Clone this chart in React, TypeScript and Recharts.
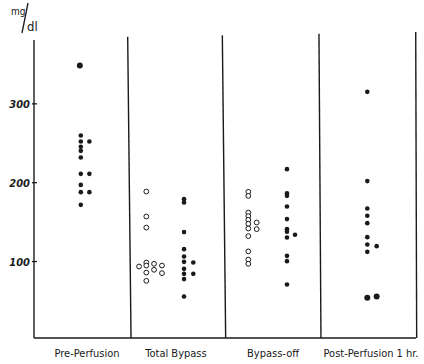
import { ScatterChart, Scatter, XAxis, YAxis, ReferenceLine, Customized } from "recharts";

const categories = ["Pre-Perfusion", "Total Bypass", "Bypass-off", "Post-Perfusion 1 hr."];
const categoryTicks = [0.555, 1.487, 2.503, 3.529];
const yTicks = [100, 200, 300];
// hand-drawn panel dividers lean a little: x at the top and at the bottom
const dividerTop = [0.981, 1.972, 2.984, 3.997];
const dividerBottom = [1.016, 2.007, 3.005, 4.007];

// values in mg/dl, one list per column of dots
const preMain = [259.8, 252.2, 245.5, 240.4, 231.9, 211.2, 197.2, 188, 171.9];
const preSide = [252.2, 211.2, 188];
const preHigh = [348.6];

const totalOpenA = [93.7];
const totalOpenB = [188.8, 157.1, 143.1, 98.7, 94.9, 86, 75.5];
const totalOpenC = [97.1, 89.5];
const totalOpenD = [94.9, 85.3];
const totalFilled = [179.1, 174.8, 137.3, 115.7, 106.3, 99.6, 90.7, 84.4, 77.7, 55.6];
const totalFilledSide = [98.7, 84.4];

const offOpen = [188.4, 183.3, 162.1, 157.6, 152.9, 147.8, 141.9, 132.2, 112.9, 102.5, 97.1];
const offOpenSide = [149.5, 141.1];
const offFilled = [217.2, 186.7, 183.3, 169.8, 153.8, 141.1, 137.7, 130.4, 107.2, 100.5, 70.8];
const offFilledSide = [133.9];

const postFilled = [315.2, 202, 167.2, 158, 148.7, 130.9, 121.6, 112.3];
const postFilledSide = [119.5];
const postLowA = [53.9];
const postLowB = [55.6];

const col = (x: number, values: number[]) => values.map((y) => ({ x, y }));

const filled = [
  ...col(0.49, preMain),
  ...col(0.58, preSide),
  ...col(1.571, totalFilled),
  ...col(1.668, totalFilledSide),
  ...col(2.649, offFilled),
  ...col(2.733, offFilledSide),
  ...col(3.49, postFilled),
  ...col(3.588, postFilledSide),
];
const big = [...col(0.48, preHigh), ...col(3.49, postLowA), ...col(3.588, postLowB)];
const open = [
  ...col(1.1, totalOpenA),
  ...col(1.176, totalOpenB),
  ...col(1.257, totalOpenC),
  ...col(1.34, totalOpenD),
  ...col(2.244, offOpen),
  ...col(2.332, offOpenSide),
];

const ink = "#1a1a1a";
const hand = "'DejaVu Sans Condensed', 'Liberation Sans', sans-serif";

const YTick = ({ x, y, payload }: any) => (
  <g>
    <line x1={x} x2={x + 5} y1={y} y2={y} stroke={ink} strokeWidth={1.3} />
    <text x={x - 2} y={y} dy={4} textAnchor="end" fontFamily={hand} fontSize={11} fontWeight="bold" fontStyle="italic" fill={ink}>
      {payload.value}
    </text>
  </g>
);

const XTick = ({ x, y, payload }: any) => (
  <text x={x} y={y + 17} textAnchor="middle" fontFamily={hand} fontSize={11} fill={ink}>
    {categories[categoryTicks.indexOf(payload.value)]}
  </text>
);

const UnitLabel = () => (
  <g fontFamily={hand} fill={ink}>
    <text x={11} y={15} fontSize={10}>mg</text>
    <line x1={22} y1={33} x2={28} y2={3} stroke={ink} strokeWidth={1.3} />
    <text x={27} y={31} fontSize={13}>dl</text>
  </g>
);

const dot = (r: number) => (props: any) => <circle cx={props.cx} cy={props.cy} r={r} fill={ink} />;
const ring = (props: any) => <circle cx={props.cx} cy={props.cy} r={2.4} fill="#fff" stroke={ink} strokeWidth={1} />;

export default function App() {
  return (
    <div style={{ position: "absolute", left: 0, top: 0, background: "#fff" }}>
      <ScatterChart width={424} height={364} margin={{ top: 40, right: 8, left: 0, bottom: 6 }}>
        <XAxis
          type="number"
          dataKey="x"
          domain={[0, 4]}
          ticks={categoryTicks}
          tick={<XTick />}
          tickLine={false}
          tickSize={0}
          height={20}
          axisLine={{ stroke: ink, strokeWidth: 1.4 }}
          interval={0}
        />
        <YAxis
          type="number"
          dataKey="y"
          domain={[3, 381]}
          ticks={yTicks}
          tick={<YTick />}
          tickLine={false}
          tickSize={0}
          width={34}
          axisLine={{ stroke: ink, strokeWidth: 1.4 }}
          interval={0}
        />
        {dividerTop.map((xt, i) => (
          <ReferenceLine
            key={i}
            segment={[
              { x: dividerBottom[i], y: 3 },
              { x: xt, y: 385 + i * 2 },
            ]}
            stroke={ink}
            strokeWidth={1.4}
            ifOverflow="visible"
          />
        ))}
        <Scatter data={filled} shape={dot(2.3)} isAnimationActive={false} />
        <Scatter data={big} shape={dot(3)} isAnimationActive={false} />
        <Scatter data={open} shape={ring} isAnimationActive={false} />
        <Customized component={<UnitLabel />} />
      </ScatterChart>
    </div>
  );
}
